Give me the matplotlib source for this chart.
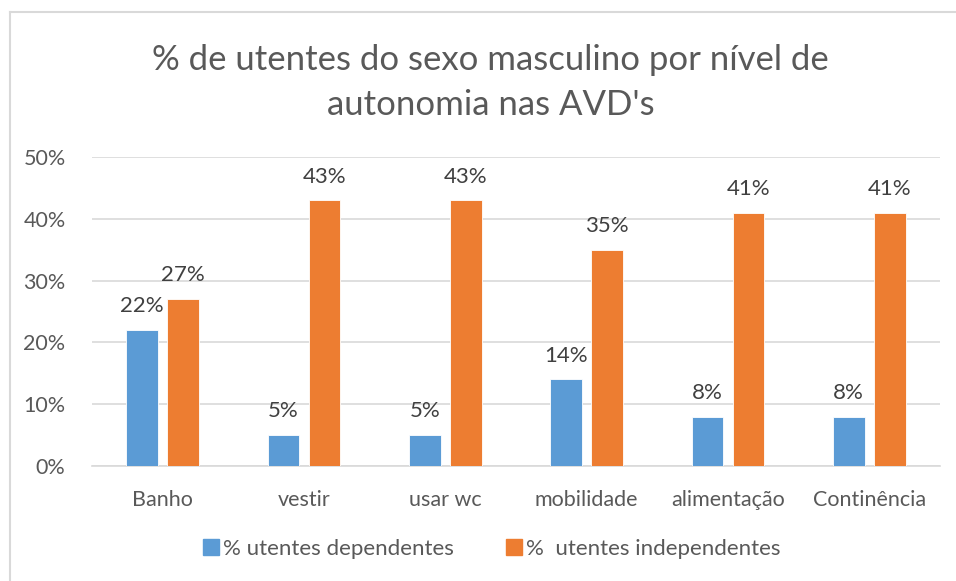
"""% de utentes do sexo masculino por nível de autonomia nas AVD's."""

import matplotlib

matplotlib.use("Agg")
import matplotlib.pyplot as plt
import numpy as np
from matplotlib.lines import Line2D
from matplotlib.ticker import PercentFormatter

plt.rcParams["font.family"] = ["Lato", "DejaVu Sans"]

# Dados.
categorias = ["Banho", "vestir", "usar wc", "mobilidade", "alimentação", "Continência"]
dependentes = [22, 5, 5, 14, 8, 8]
independentes = [27, 43, 43, 35, 41, 41]
nome_dep = "% utentes dependentes"
nome_ind = "%  utentes independentes"

AZUL = "#5b9bd5"
LARANJA = "#ed7d31"
CINZA_TXT = "#595959"

fig = plt.figure(figsize=(9.56, 5.81), dpi=100)
ax = fig.add_axes([0.0962, 0.198, 0.887, 0.532])

x = np.arange(len(categorias))
w = 0.225
off = 0.145
b1 = ax.bar(x - off, dependentes, w, color=AZUL, edgecolor="white", linewidth=0.6, zorder=3)
b2 = ax.bar(x + off, independentes, w, color=LARANJA, edgecolor="white", linewidth=0.6, zorder=3)

for barras, vals in ((b1, dependentes), (b2, independentes)):
    for r, v in zip(barras, vals):
        ax.text(r.get_x() + r.get_width() / 2, v + 2.2, f"{v}%", ha="center", va="bottom",
                fontsize=16, color="#404040")

ax.set_xlim(-0.5, len(categorias) - 0.5)
ax.set_ylim(0, 50)
ax.set_yticks(range(0, 51, 10))
ax.yaxis.set_major_formatter(PercentFormatter(decimals=0))
ax.set_xticks(x, categorias)
ax.tick_params(axis="both", length=0, labelsize=15.5, labelcolor=CINZA_TXT)
ax.tick_params(axis="x", pad=17)
ax.tick_params(axis="y", pad=19)
ax.grid(axis="y", color="#d9d9d9", linewidth=1.2, zorder=0)
for s in ("top", "right", "left"):
    ax.spines[s].set_visible(False)
ax.spines["bottom"].set_color("#d9d9d9")
ax.spines["bottom"].set_linewidth(1.2)

fig.text(0.513, 0.858, "% de utentes do sexo masculino por nível de\nautonomia nas AVD's",
         ha="center", va="center", fontsize=25, color=CINZA_TXT, linespacing=1.5)

handles = [
    Line2D([], [], marker="s", linestyle="", markersize=11, color=AZUL),
    Line2D([], [], marker="s", linestyle="", markersize=11, color=LARANJA),
]
fig.legend(handles, [nome_dep, nome_ind], loc="center", bbox_to_anchor=(0.513, 0.055),
           ncol=2, frameon=False, fontsize=16, labelcolor=CINZA_TXT,
           handletextpad=0.05, columnspacing=2.2, handlelength=1.0)

# Moldura do gráfico (só esquerda e topo visíveis).
fig.add_artist(Line2D([10 / 956, 10 / 956], [0, 1 - 12 / 581], color="#d9d9d9", lw=1.5))
fig.add_artist(Line2D([10 / 956, 1], [1 - 12 / 581, 1 - 12 / 581], color="#d9d9d9", lw=1.5))

fig.savefig("out.png", dpi=100)
